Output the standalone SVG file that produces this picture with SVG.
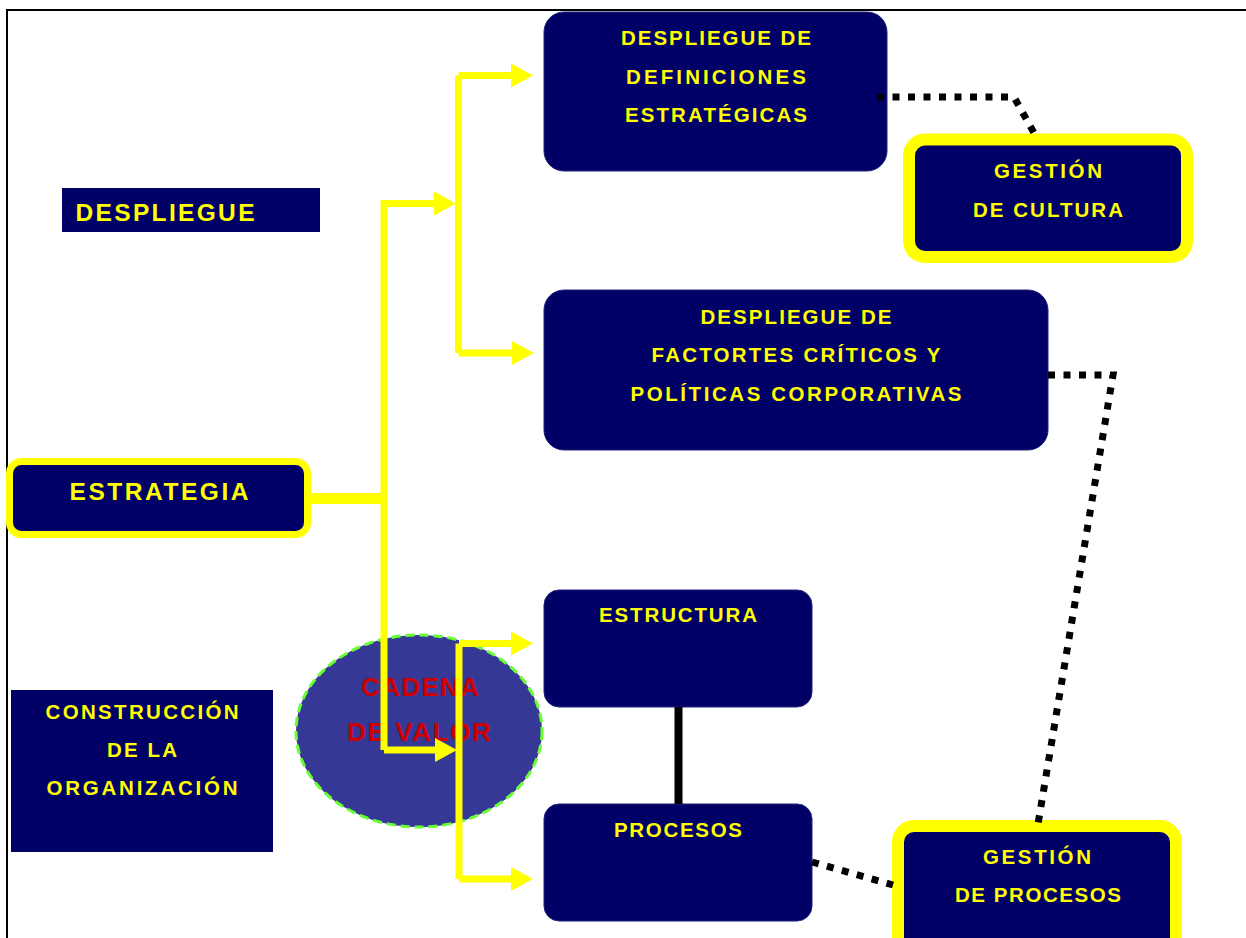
<svg xmlns="http://www.w3.org/2000/svg" width="1246" height="938" viewBox="0 0 1246 938">
<style>
.box{fill:#000066;stroke:#22227a;stroke-width:1}
.hl{fill:#000066;stroke:#ffff00}
.t{font-family:"Liberation Sans",Arial,sans-serif;font-weight:bold;fill:#ffff00;text-anchor:middle}
.n{font-size:20.5px}
.red{fill:#cc0000}
.y{fill:none;stroke:#ffff00;stroke-width:7}
.dot{fill:none;stroke:#000;stroke-width:7;stroke-dasharray:7 8.5}
</style>
<defs>
<marker id="ah" viewBox="0 0 22 24" refX="12" refY="12" markerWidth="22" markerHeight="24" markerUnits="userSpaceOnUse" orient="auto">
<path d="M0,0 L22,12 L0,24 z" fill="#ffff00"/>
</marker>
</defs>
<rect width="1246" height="938" fill="#ffffff"/>
<g id="frame">
<line x1="6" y1="10" x2="1246" y2="10" stroke="#000" stroke-width="2"/>
<line x1="7" y1="9" x2="7" y2="938" stroke="#000" stroke-width="2"/>
</g>
<g id="despliegue-label">
<rect x="62" y="188" width="258" height="44" fill="#000066"/>
<text class="t" x="165" y="221" font-size="24.5" textLength="179" lengthAdjust="spacing">DESPLIEGUE</text>
</g>
<g id="construccion-label">
<rect x="11" y="690" width="262" height="162" fill="#000066"/>
<text class="t n" x="142" y="718.5" textLength="193" lengthAdjust="spacing">CONSTRUCCIÓN</text>
<text class="t n" x="142" y="756.5" textLength="70" lengthAdjust="spacing">DE LA</text>
<text class="t n" x="142" y="794.5" textLength="191" lengthAdjust="spacing">ORGANIZACIÓN</text>
</g>
<g id="cadena">
<ellipse cx="419" cy="731" rx="123" ry="96" fill="#363896" stroke="#66ff33" stroke-width="3" stroke-dasharray="9 5"/>
<text class="t red" x="420" y="695.5" font-size="26" textLength="118" lengthAdjust="spacing">CADENA</text>
<text class="t red" x="419" y="740.5" font-size="26" textLength="144" lengthAdjust="spacing">DE VALOR</text>
</g>
<g id="estrategia">
<rect class="hl" x="9.5" y="461.5" width="298" height="73" rx="12" stroke-width="7"/>
<text class="t" x="159" y="499.5" font-size="24.5" textLength="179" lengthAdjust="spacing">ESTRATEGIA</text>
</g>
<g id="definiciones">
<rect class="box" x="544" y="12" width="343" height="159" rx="20"/>
<text class="t n" x="716" y="44.5" textLength="190" lengthAdjust="spacing">DESPLIEGUE DE</text>
<text class="t n" x="716" y="83.5" textLength="180" lengthAdjust="spacing">DEFINICIONES</text>
<text class="t n" x="716" y="121.5" textLength="182" lengthAdjust="spacing">ESTRATÉGICAS</text>
</g>
<g id="cultura">
<rect class="hl" x="909" y="139.5" width="278" height="117.5" rx="16" stroke-width="12"/>
<text class="t n" x="1048" y="177.5" textLength="108" lengthAdjust="spacing">GESTIÓN</text>
<text class="t n" x="1048" y="216.5" textLength="150" lengthAdjust="spacing">DE CULTURA</text>
</g>
<g id="factores">
<rect class="box" x="544" y="290" width="504" height="160" rx="20"/>
<text class="t n" x="796" y="323.5" textLength="191" lengthAdjust="spacing">DESPLIEGUE DE</text>
<text class="t n" x="796" y="361.5" textLength="289" lengthAdjust="spacing">FACTORTES CRÍTICOS Y</text>
<text class="t n" x="796" y="400.5" textLength="331" lengthAdjust="spacing">POLÍTICAS CORPORATIVAS</text>
</g>
<g id="estructura">
<rect class="box" x="544" y="590" width="268" height="117" rx="15"/>
<text class="t n" x="678" y="621.5" textLength="158" lengthAdjust="spacing">ESTRUCTURA</text>
</g>
<g id="procesos">
<rect class="box" x="544" y="804" width="268" height="117" rx="15"/>
<text class="t n" x="678" y="836.5" textLength="128" lengthAdjust="spacing">PROCESOS</text>
</g>
<g id="gestion-procesos">
<rect class="hl" x="898" y="826" width="278" height="130" rx="16" stroke-width="12"/>
<text class="t n" x="1037" y="863.5" textLength="108" lengthAdjust="spacing">GESTIÓN</text>
<text class="t n" x="1038" y="901.5" textLength="166" lengthAdjust="spacing">DE PROCESOS</text>
</g>
<g id="connectors">
<line x1="311" y1="498.5" x2="384" y2="498.5" stroke="#ffff00" stroke-width="11"/>
<path class="y" d="M384,750 V203.5 H446" marker-end="url(#ah)"/>
<path class="y" d="M384,750 H447" marker-end="url(#ah)"/>
<path class="y" d="M458.5,75.5 V353"/>
<path class="y" d="M458.5,75.5 H523" marker-end="url(#ah)"/>
<path class="y" d="M458.5,353 H524" marker-end="url(#ah)"/>
<path class="y" d="M459,643.5 V879"/>
<path class="y" d="M459,643.5 H523" marker-end="url(#ah)"/>
<path class="y" d="M459,879 H523" marker-end="url(#ah)"/>
<line x1="678.5" y1="707" x2="678.5" y2="804" stroke="#000" stroke-width="8"/>
<path class="dot" d="M877,97 H1014 L1034,133"/>
<path class="dot" d="M1048,375 H1113 L1038,824"/>
<path class="dot" d="M812,862 L893,885"/>
</g>
</svg>
